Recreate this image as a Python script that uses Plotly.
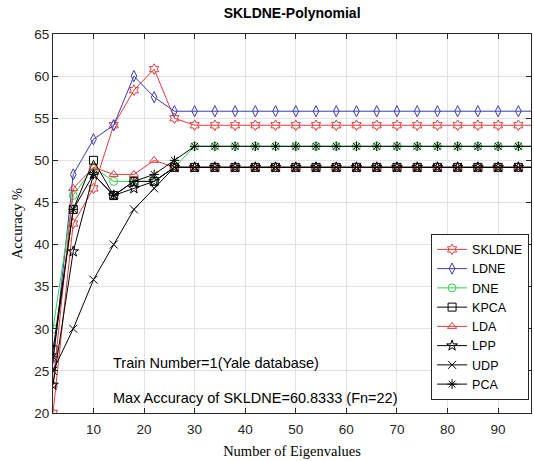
import plotly.graph_objects as go

# Number of eigenvalues (feature dimension) used for each run
fn = [2, 6, 10, 14, 18, 22, 26, 30, 34, 38, 42, 46, 50, 54, 58, 62, 66, 70, 74, 78, 82, 86, 90, 94, 98]
n_flat = len(fn) - 7

# Recognition accuracy (%) per method
skldne = [20.0, 42.5, 46.67, 54.17, 58.33, 60.8333, 55.0] + [54.1667] * n_flat
ldne = [25.83, 48.33, 52.5, 54.17, 60.0, 57.5, 55.83] + [55.8333] * n_flat
dne = [30.0, 45.83, 49.17, 47.5, 47.5, 47.5, 49.17] + [51.6667] * n_flat
kpca = [27.5, 44.17, 50.0, 45.83, 47.5, 47.5, 49.17] + [49.1667] * n_flat
lda = [23.33, 46.67, 49.17, 48.33, 48.33, 50.0, 49.17] + [49.1667] * n_flat
lpp = [23.33, 39.17, 48.33, 45.83, 46.67, 47.5, 49.17] + [49.1667] * n_flat
udp = [25.0, 30.0, 35.83, 40.0, 44.17, 46.67, 49.17] + [49.1667] * n_flat
pca = [26.67, 44.17, 48.33, 45.83, 47.5, 48.33, 50.0] + [51.6667] * n_flat

x_ticks = [10, 20, 30, 40, 50, 60, 70, 80, 90]
y_ticks = [20, 25, 30, 35, 40, 45, 50, 55, 60, 65]

series = [
    ("SKLDNE", skldne, "#e03b3b", "hexagram-open"),
    ("LDNE", ldne, "#3c3cb0", "diamond-tall-open"),
    ("DNE", dne, "#2fd04a", "circle-open"),
    ("KPCA", kpca, "#000000", "square-open"),
    ("LDA", lda, "#e03b3b", "triangle-up-open"),
    ("LPP", lpp, "#000000", "star-open"),
    ("UDP", udp, "#000000", "x-thin-open"),
    ("PCA", pca, "#000000", "asterisk-open"),
]

fig = go.Figure()
for name, vals, color, symbol in series:
    fig.add_trace(go.Scatter(
        x=fn, y=vals, name=name, mode="lines+markers",
        line=dict(color=color, width=1),
        marker=dict(symbol=symbol, size=8, color=color,
                    line=dict(color=color, width=1)),
    ))

axis_common = dict(
    showgrid=True, gridcolor="#e2e2e2", gridwidth=1,
    showline=True, linecolor="#262626", linewidth=1, mirror="ticks",
    ticks="inside", ticklen=5, tickcolor="#262626",
    tickfont=dict(family="Liberation Sans, Arial", size=13.5, color="#262626"),
    zeroline=False,
)

fig.update_layout(
    width=534, height=461,
    margin=dict(l=53, r=3, t=34, b=48),
    paper_bgcolor="white", plot_bgcolor="white",
    title=dict(text="<b>SKLDNE-Polynomial</b>", x=0.547, xanchor="center",
               y=0.972, yanchor="middle",
               font=dict(family="Liberation Sans, Arial", size=14, color="black")),
    xaxis=dict(range=[2, 96.5], tickvals=x_ticks, ticklabelstandoff=4,
               title=dict(text="Number of Eigenvalues", standoff=9,
                          font=dict(family="Liberation Serif, Times New Roman", size=14.5, color="black")),
               **axis_common),
    yaxis=dict(range=[20, 65], tickvals=y_ticks,
               title=dict(text="Accuracy %", standoff=8,
                          font=dict(family="Liberation Serif, Times New Roman", size=14.5, color="black")),
               **axis_common),
    legend=dict(x=0.996, xanchor="right", y=0.035, yanchor="bottom",
                bgcolor="white", bordercolor="#262626", borderwidth=1,
                font=dict(family="Liberation Sans, Arial", size=12.5, color="black"),
                tracegroupgap=0, itemwidth=30, entrywidth=70),
    showlegend=True,
)

fig.add_annotation(text="Train Number=1(Yale database)", xref="paper", yref="paper",
                   x=0.121, y=0.132, xanchor="left", yanchor="middle", showarrow=False,
                   font=dict(family="Liberation Sans, Arial", size=14.5, color="black"))
fig.add_annotation(text="Max Accuracy of SKLDNE=60.8333 (Fn=22)", xref="paper", yref="paper",
                   x=0.121, y=0.040, xanchor="left", yanchor="middle", showarrow=False,
                   font=dict(family="Liberation Sans, Arial", size=14.5, color="black"))

fig.write_html("out.html")
